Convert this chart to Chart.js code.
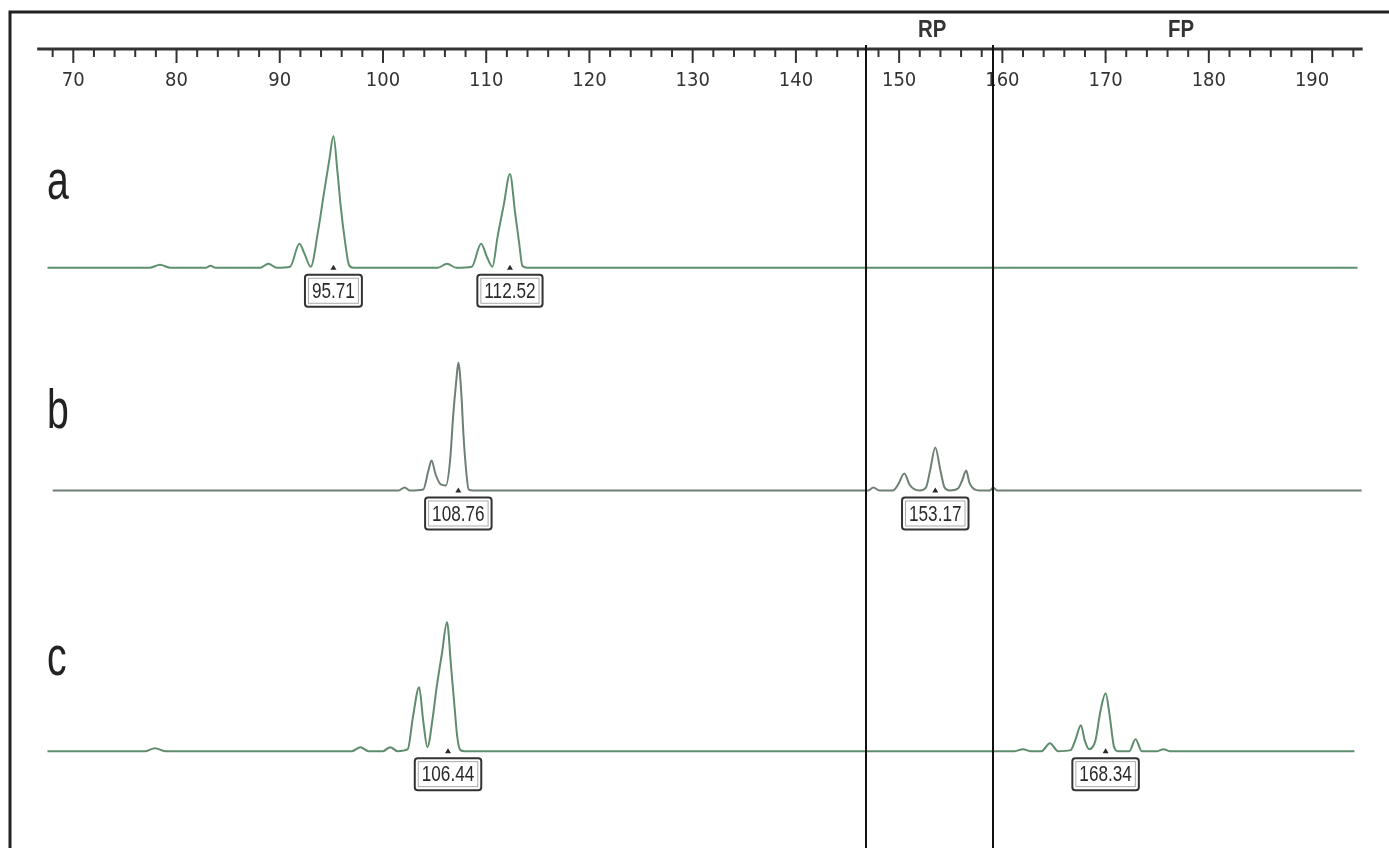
<!DOCTYPE html>
<html>
<head>
<meta charset="utf-8">
<style>
html, body { margin: 0; padding: 0; background: #fff; }
#wrap { width: 1389px; height: 848px; }
</style>
<script src="https://cdn.jsdelivr.net/npm/chart.js@4.4.0/dist/chart.umd.min.js"></script>
</head>
<body>
<div id="wrap"><canvas id="chart" width="1389" height="848"></canvas></div>
<script>
// fragment size (bp) vs signal
const traceA = [
    [67.5, 0], [77.4, 0], [78.4, 3], [79.4, 0], [82.8, 0], [83.3, 2], [83.8, 0],
    [88.1, 0], [88.9, 4], [89.7, 0], [91.0, 1], [91.9, 24], [92.4, 14], [93.0, 1],
    [93.7, 36], [94.3, 76], [94.8, 108], [95.2, 132], [95.6, 95], [95.9, 62], [96.3, 28], [96.7, 3], [97.1, 0],
    [105.3, 0], [106.2, 4], [107.1, 0], [108.6, 1], [109.5, 24], [110.1, 10], [110.6, 1],
    [111.1, 31], [111.7, 63], [112.3, 94], [112.8, 55], [113.2, 24], [113.5, 2], [114.0, 0],
    [194.4, 0]
];
const traceB = [
    [68.0, 0], [101.5, 0], [102.1, 3], [102.6, 0], [103.9, 1], [104.4, 20], [104.7, 30], [105.1, 16],
    [105.6, 6], [106.1, 5], [106.5, 30], [106.8, 75], [107.1, 110], [107.3, 128], [107.6, 95],
    [107.8, 55], [108.1, 15], [108.3, 1], [108.7, 0],
    [147.0, 0], [147.5, 3], [148.1, 0], [149.4, 0], [149.9, 6], [150.5, 17], [151.0, 6], [151.5, 1], [152.0, 0],
    [152.6, 3], [153.0, 20], [153.5, 43], [154.0, 20], [154.4, 3], [154.9, 0],
    [155.7, 2], [156.1, 10], [156.5, 20], [156.8, 8], [157.3, 1], [157.8, 0],
    [158.8, 0], [159.1, 3], [159.5, 0], [194.8, 0]
];
const traceC = [
    [67.5, 0], [77.0, 0], [77.9, 3], [78.9, 0], [97.0, 0], [97.8, 4], [98.6, 0],
    [100.0, 0], [100.7, 4], [101.4, 0], [102.4, 2], [102.9, 34], [103.5, 64], [103.9, 30], [104.3, 4],
    [104.8, 32], [105.2, 64], [105.7, 97], [106.2, 129], [106.6, 84], [106.9, 48], [107.2, 14], [107.5, 1], [107.9, 0],
    [161.2, 0], [162.0, 2], [162.7, 0], [163.8, 0], [164.6, 8], [165.4, 0],
    [166.6, 1], [167.1, 12], [167.6, 26], [168.0, 10], [168.4, 2],
    [169.0, 10], [169.5, 40], [170.0, 58], [170.4, 35], [170.8, 5], [171.2, 0],
    [172.3, 0], [172.9, 12], [173.5, 0], [175.0, 0], [175.6, 2], [176.2, 0], [194.1, 0]
];

const laneNames = ['a', 'b', 'c'];
const peakSizes = [['95.71', '112.52'], ['108.76', '153.17'], ['106.44', '168.34']];
const peakAt = [[95.2, 112.3], [107.3, 153.5], [106.3, 170.0]];

const regionNames = ['RP', 'FP'];
const regionEdges = [146.8, 159.05];
const regionLabelAt = [153.2, 177.3];

const axisRange = [66.5, 194.9];

// layout: vertical lane baselines (y units) and trace colours
const laneBase = [581, 358, 97];
const laneColors = ['#5e9070', '#6e7f74', '#5f8c6c'];
const letterLift = [69, 62, 76];

const NARROW = "'Liberation Sans Narrow', 'DejaVu Sans Condensed', 'Liberation Sans', sans-serif";

// text squeezed sideways, like the condensed face of the original software
function narrowText(ctx, text, x, y, squeeze) {
    ctx.save();
    ctx.translate(x, y);
    ctx.scale(squeeze, 1);
    ctx.fillText(text, 0, 0);
    ctx.restore();
}

const decor = {
    id: 'decor',
    afterDraw(chart) {
        const {ctx, scales: {x, y}} = chart;
        ctx.save();

        // frame
        ctx.strokeStyle = '#222';
        ctx.lineWidth = 3;
        ctx.strokeRect(10, 12, chart.width + 20, chart.height + 20);

        // ruler along the top
        const axisY = 49;
        ctx.strokeStyle = '#333';
        ctx.lineWidth = 3;
        ctx.beginPath();
        ctx.moveTo(x.getPixelForValue(axisRange[0]), axisY);
        ctx.lineTo(x.getPixelForValue(axisRange[1]), axisY);
        ctx.stroke();
        ctx.lineWidth = 2;
        x.ticks.forEach(t => {
            if (t.value < axisRange[0] || t.value > axisRange[1]) return;
            const px = x.getPixelForValue(t.value);
            const len = t.value % 10 === 0 ? 14 : 8;
            ctx.beginPath();
            ctx.moveTo(px, axisY);
            ctx.lineTo(px, axisY + len);
            ctx.stroke();
        });

        // RP / FP windows
        ctx.strokeStyle = '#111';
        ctx.lineWidth = 2;
        regionEdges.forEach(v => {
            const px = Math.round(x.getPixelForValue(v));
            ctx.beginPath();
            ctx.moveTo(px, 45);
            ctx.lineTo(px, chart.height);
            ctx.stroke();
        });
        ctx.fillStyle = '#333';
        ctx.font = "bold 24px 'Liberation Sans', sans-serif";
        ctx.textAlign = 'center';
        ctx.textBaseline = 'middle';
        regionNames.forEach((name, i) => {
            narrowText(ctx, name, x.getPixelForValue(regionLabelAt[i]), 30, 0.85);
        });

        // lane letters
        ctx.fillStyle = '#222';
        ctx.font = "56px 'Liberation Sans', sans-serif";
        ctx.textAlign = 'left';
        ctx.textBaseline = 'alphabetic';
        laneNames.forEach((name, i) => {
            narrowText(ctx, name, 47, y.getPixelForValue(laneBase[i]) - letterLift[i], 0.7);
        });

        // size call boxes
        ctx.font = "22px 'Liberation Sans', sans-serif";
        ctx.textAlign = 'center';
        ctx.textBaseline = 'middle';
        peakSizes.forEach((sizes, i) => {
            const py = y.getPixelForValue(laneBase[i]);
            sizes.forEach((label, j) => {
                const px = x.getPixelForValue(peakAt[i][j]);
                const w = ctx.measureText(label).width * 0.78 + 14;
                const h = 32;
                const top = py + 7;
                ctx.strokeStyle = '#333';
                ctx.lineWidth = 2;
                ctx.beginPath();
                ctx.roundRect(px - w / 2, top, w, h, 3);
                ctx.stroke();
                ctx.strokeStyle = '#aaa';
                ctx.lineWidth = 1;
                ctx.strokeRect(px - w / 2 + 3.5, top + 3.5, w - 7, h - 7);
                ctx.fillStyle = '#2a2a2a';
                narrowText(ctx, label, px, top + h / 2 + 1, 0.78);
                ctx.beginPath();
                ctx.moveTo(px - 3, py + 2);
                ctx.lineTo(px + 3, py + 2);
                ctx.lineTo(px, py - 3);
                ctx.closePath();
                ctx.fill();
            });
        });

        ctx.restore();
    }
};

const traces = [traceA, traceB, traceC];

new Chart(document.getElementById('chart').getContext('2d'), {
    type: 'line',
    data: {
        datasets: traces.map((trace, i) => ({
            label: laneNames[i],
            data: trace.map(([bp, h]) => ({x: bp, y: laneBase[i] + h})),
            borderColor: laneColors[i],
            borderWidth: 2,
            pointRadius: 0,
            cubicInterpolationMode: 'monotone',
            fill: false
        }))
    },
    plugins: [decor],
    options: {
        responsive: false,
        animation: false,
        layout: {
            padding: {top: 66, left: 32, right: 15, bottom: 0}
        },
        plugins: {
            legend: {display: false},
            tooltip: {enabled: false}
        },
        scales: {
            x: {
                type: 'linear',
                position: 'top',
                min: 66,
                max: 196,
                grid: {display: false, drawTicks: false},
                border: {display: false},
                ticks: {
                    stepSize: 2,
                    autoSkip: false,
                    maxRotation: 0,
                    padding: 3,
                    color: '#333',
                    font: {family: NARROW, size: 20},
                    callback: v => v % 10 === 0 ? String(v) : ''
                }
            },
            y: {
                display: false,
                min: 0,
                max: 753
            }
        }
    }
});
</script>
</body>
</html>
